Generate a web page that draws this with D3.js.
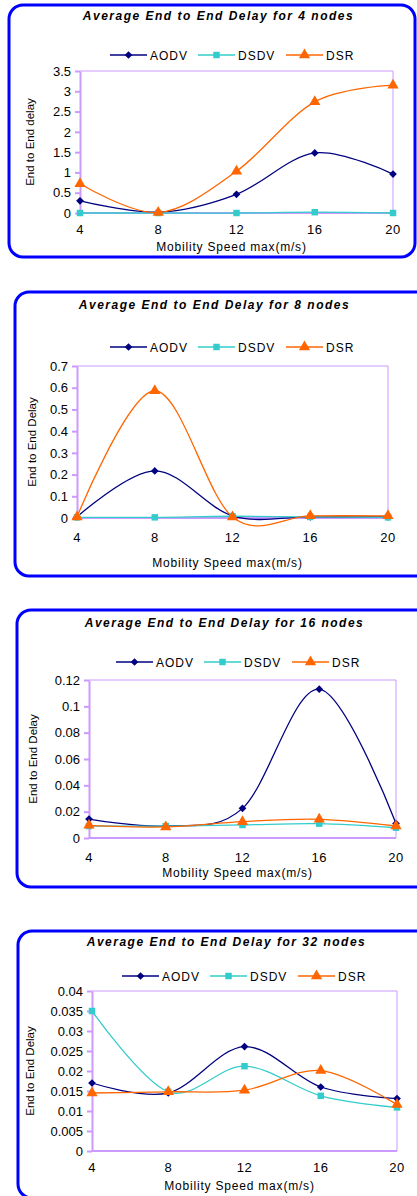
<!DOCTYPE html>
<html>
<head>
<meta charset="utf-8">
<script src="https://cdn.jsdelivr.net/npm/d3@7"></script>
<style>
  body { margin: 0; background: #fff; }
  svg { display: block; font-family: "Liberation Sans", Arial, sans-serif; }
</style>
</head>
<body>
<div id="wrapper"></div>
<script>
// x categories (max mobility speed, m/s)
const speeds = [4, 8, 12, 16, 20];
const protocols = ["AODV", "DSDV", "DSR"];

// 4 nodes
const aodv4 = [0.30, 0.02, 0.46, 1.48, 0.96];
const dsdv4 = [0.00, 0.00, 0.00, 0.02, 0.00];
const dsr4  = [0.72, 0.01, 1.03, 2.74, 3.15];
const yTicks4 = [0, 0.5, 1, 1.5, 2, 2.5, 3, 3.5];

// 8 nodes
const aodv8 = [0.005, 0.217, 0.010, 0.005, 0.005];
const dsdv8 = [0.003, 0.003, 0.008, 0.005, 0.003];
const dsr8  = [0.005, 0.586, 0.005, 0.010, 0.010];
const yTicks8 = [0, 0.1, 0.2, 0.3, 0.4, 0.5, 0.6, 0.7];

// 16 nodes
const aodv16 = [0.0144, 0.0091, 0.0225, 0.1130, 0.0110];
const dsdv16 = [0.0091, 0.0090, 0.0099, 0.0109, 0.0078];
const dsr16  = [0.0096, 0.0084, 0.0124, 0.0142, 0.0091];
const yTicks16 = [0, 0.02, 0.04, 0.06, 0.08, 0.1, 0.12];

// 32 nodes
const aodv32 = [0.0170, 0.0145, 0.0261, 0.0160, 0.0131];
const dsdv32 = [0.0350, 0.0148, 0.0212, 0.0138, 0.0109];
const dsr32  = [0.0145, 0.0148, 0.0152, 0.0201, 0.0116];
const yTicks32 = [0, 0.005, 0.01, 0.015, 0.02, 0.025, 0.03, 0.035, 0.04];

const colors = { AODV: "#000080", DSDV: "#33cccc", DSR: "#ff6600" };

// markers: diamond = square turned 45deg
const marker = {
  AODV: { d: d3.symbol(d3.symbolSquare, 30)(), rot: 45 },
  DSDV: { d: d3.symbol(d3.symbolSquare, 42)(), rot: 0 },
  DSR:  { d: d3.symbol(d3.symbolTriangle, 55)(), rot: 0 }
};

// frame + plot box for each chart
const panels = [
  { title: "Average End to End Delay for 4 nodes", yTitle: "End to End delay",
    series: [aodv4, dsdv4, dsr4], ticks: yTicks4,
    box: [9, 5, 406, 252], plot: [80, 71, 393, 213], titleY: 20, legendX: 110, legendY: 55,
    xLabY: 234, xTitleY: 251, yTitleX: 30 },
  { title: "Average End to End Delay for 8 nodes", yTitle: "End to End Delay",
    series: [aodv8, dsdv8, dsr8], ticks: yTicks8,
    box: [15, 292, 420, 284], plot: [77, 366, 388, 518], titleY: 309, legendX: 110, legendY: 347,
    xLabY: 542, xTitleY: 567, yTitleX: 32 },
  { title: "Average End to End Delay for 16 nodes", yTitle: "End to End Delay",
    series: [aodv16, dsdv16, dsr16], ticks: yTicks16,
    box: [17, 610, 420, 277], plot: [89, 680, 396, 838], titleY: 627, legendX: 116, legendY: 662,
    xLabY: 862, xTitleY: 877, yTitleX: 33 },
  { title: "Average End to End Delay for 32 nodes", yTitle: "End to End Delay",
    series: [aodv32, dsdv32, dsr32], ticks: yTicks32,
    box: [18, 931, 420, 267], plot: [92, 991, 397, 1151], titleY: 946, legendX: 122, legendY: 976,
    xLabY: 1172, xTitleY: 1190, yTitleX: 30 }
];

const width = 417, height = 1196;
const svg = d3.select("#wrapper").append("svg")
  .attr("width", width)
  .attr("height", height);

panels.forEach(p => {
  const g = svg.append("g");
  const [bx, by, bw, bh] = p.box;
  const [left, top, right, bottom] = p.plot;

  g.append("rect")
    .attr("x", bx).attr("y", by).attr("width", bw).attr("height", bh)
    .attr("rx", 14).attr("ry", 14)
    .attr("fill", "#fff").attr("stroke", "#0000ff").attr("stroke-width", 3);

  const x = d3.scalePoint().domain(speeds).range([left, right]);
  const y = d3.scaleLinear().domain([0, d3.max(p.ticks)]).range([bottom, top]);

  // title
  g.append("text")
    .attr("x", (left + right) / 2 - 18).attr("y", p.titleY)
    .attr("text-anchor", "middle")
    .attr("font-size", 12).attr("font-weight", "bold").attr("font-style", "italic")
    .attr("letter-spacing", 1.5)
    .text(p.title);

  // plot frame (top / right thin)
  g.append("path")
    .attr("d", `M${left},${top}H${right}V${bottom}`)
    .attr("fill", "none").attr("stroke", "#cc99ff").attr("stroke-width", 1);

  // y axis
  const yAxis = g.append("g")
    .attr("transform", `translate(${left},0)`)
    .call(d3.axisLeft(y).tickValues(p.ticks).tickSize(5).tickSizeOuter(0).tickPadding(4)
      .tickFormat(d => String(+d.toFixed(3))));
  yAxis.select(".domain").attr("stroke", "#cc99ff").attr("stroke-width", 2);
  yAxis.selectAll(".tick line").attr("stroke", "#cc99ff").attr("stroke-width", 2);
  yAxis.selectAll(".tick text").attr("font-size", 13).attr("fill", "#000")
    .attr("font-family", "Liberation Sans, Arial, sans-serif");

  // x axis
  g.append("line")
    .attr("x1", left).attr("x2", right).attr("y1", bottom).attr("y2", bottom)
    .attr("stroke", "#cc99ff").attr("stroke-width", 2);
  g.selectAll(".xlab").data(speeds).join("text")
    .attr("x", d => x(d)).attr("y", p.xLabY)
    .attr("text-anchor", "middle").attr("font-size", 13).attr("letter-spacing", 0.5)
    .text(d => d);

  g.append("text")
    .attr("x", (left + right) / 2 - 5).attr("y", p.xTitleY)
    .attr("text-anchor", "middle").attr("font-size", 12).attr("letter-spacing", 0.8)
    .text("Mobility Speed max(m/s)");

  g.append("text")
    .attr("transform", `translate(${p.yTitleX + 4},${(top + bottom) / 2}) rotate(-90)`)
    .attr("text-anchor", "middle").attr("font-size", 11.5)
    .text(p.yTitle);

  // series
  const line = d3.line()
    .x((d, i) => x(speeds[i]))
    .y(d => y(d))
    .curve(d3.curveCardinal.tension(0));

  protocols.forEach((name, k) => {
    const vals = p.series[k];
    g.append("path")
      .datum(vals)
      .attr("fill", "none")
      .attr("stroke", colors[name])
      .attr("stroke-width", 1.3)
      .attr("d", line);
    g.selectAll(".m" + name).data(vals).join("path")
      .attr("transform", (d, i) => `translate(${x(speeds[i])},${y(d)}) rotate(${marker[name].rot})`)
      .attr("fill", colors[name])
      .attr("d", marker[name].d);
  });

  // legend
  const leg = g.append("g").attr("transform", `translate(${p.legendX},${p.legendY})`);
  protocols.forEach((name, k) => {
    const item = leg.append("g").attr("transform", `translate(${k * 88},0)`);
    item.append("line").attr("x1", 0).attr("x2", 37).attr("y1", 0).attr("y2", 0)
      .attr("stroke", colors[name]).attr("stroke-width", 1.3);
    item.append("path").attr("transform", `translate(18.5,0) rotate(${marker[name].rot})`)
      .attr("fill", colors[name])
      .attr("d", marker[name].d);
    item.append("text").attr("x", 40).attr("y", 4.5)
      .attr("font-size", 12).attr("letter-spacing", 1)
      .text(name);
  });
});
</script>
</body>
</html>
